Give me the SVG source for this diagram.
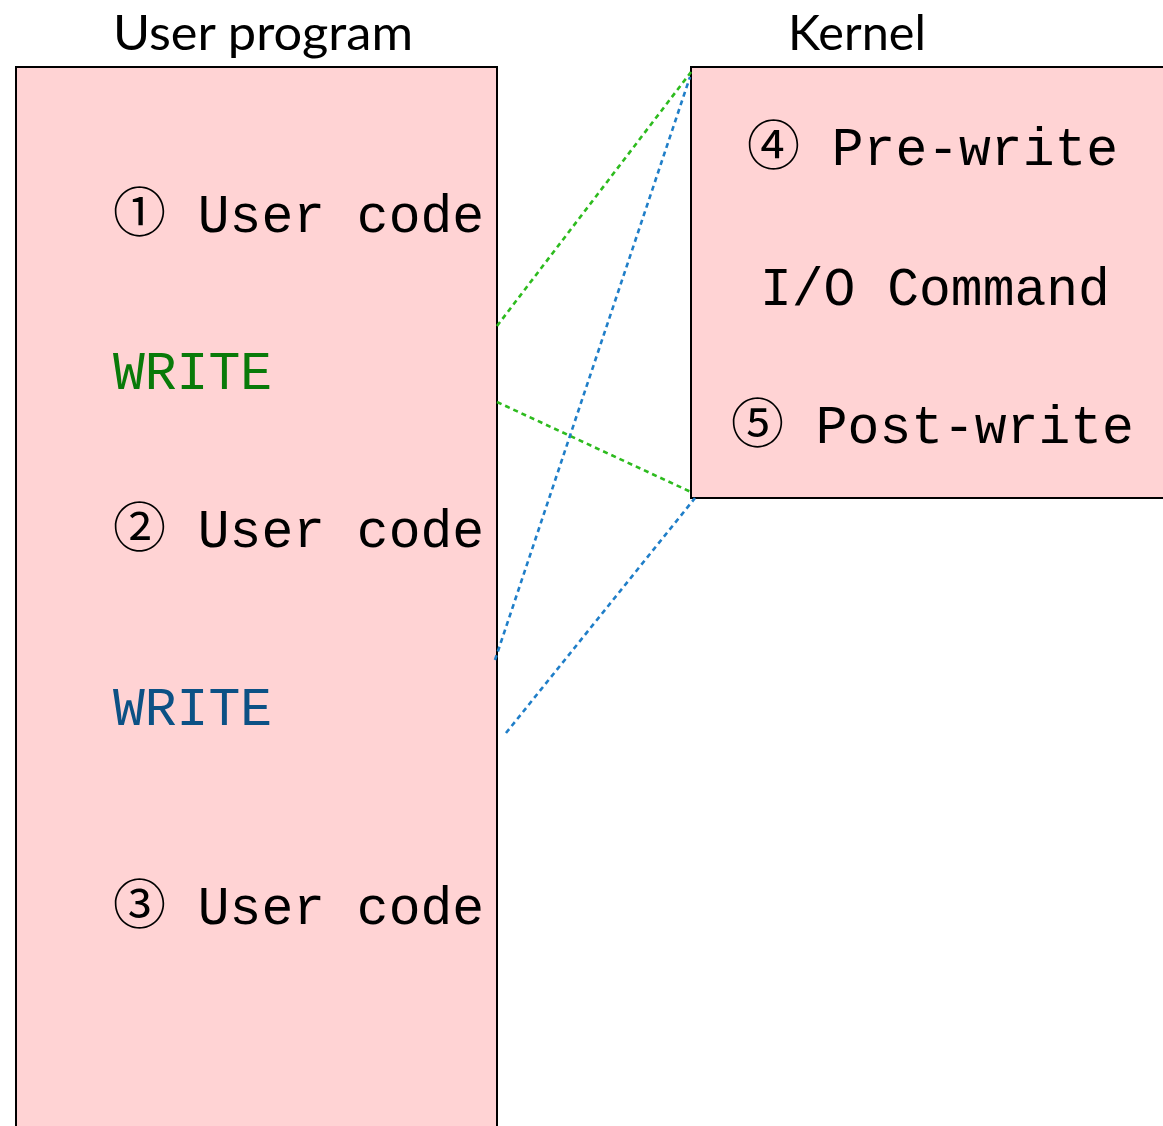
<svg xmlns="http://www.w3.org/2000/svg" width="1163" height="1126" viewBox="0 0 1163 1126">
<style>
.box{fill:#FFD3D4;stroke:#000;stroke-width:2}
.title{font-family:Lato,"Open Sans",sans-serif;font-size:48px;fill:#000}
.mono{font-family:"Liberation Mono","Noto Sans CJK JP",monospace;font-size:53px;fill:#000}
.green{fill:#097A09}
.blue{fill:#0C5185}
.gl{stroke:#2DBB1E;stroke-width:2.6;stroke-dasharray:5 4;fill:none}
.bl{stroke:#1F7EC8;stroke-width:2.6;stroke-dasharray:5 4;fill:none}
</style>
<rect width="1163" height="1126" fill="#fff"/>
<text class="title" x="113" y="50" textLength="300" lengthAdjust="spacingAndGlyphs">User program</text>
<text class="title" x="788" y="50" textLength="138" lengthAdjust="spacingAndGlyphs">Kernel</text>
<g id="user-program">
<rect class="box" x="16" y="67" width="481" height="1080"/>
<text class="mono" x="113" y="232">① User code</text>
<text class="mono green" x="113" y="389">WRITE</text>
<text class="mono" x="113" y="547">② User code</text>
<text class="mono blue" x="113" y="725">WRITE</text>
<text class="mono" x="113" y="924">③ User code</text>
</g>
<g id="kernel">
<rect class="box" x="691" y="67" width="500" height="431"/>
<text class="mono" x="747" y="165">④ Pre-write</text>
<text class="mono" x="760" y="305">I/O Command</text>
<text class="mono" x="731" y="443">⑤ Post-write</text>
</g>
<g id="connectors">
<line class="gl" x1="497" y1="326" x2="691" y2="72"/>
<line class="gl" x1="497" y1="402" x2="691" y2="492"/>
<line class="bl" x1="495" y1="660" x2="690" y2="77"/>
<line class="bl" x1="506" y1="733" x2="695" y2="498"/>
</g>
</svg>
